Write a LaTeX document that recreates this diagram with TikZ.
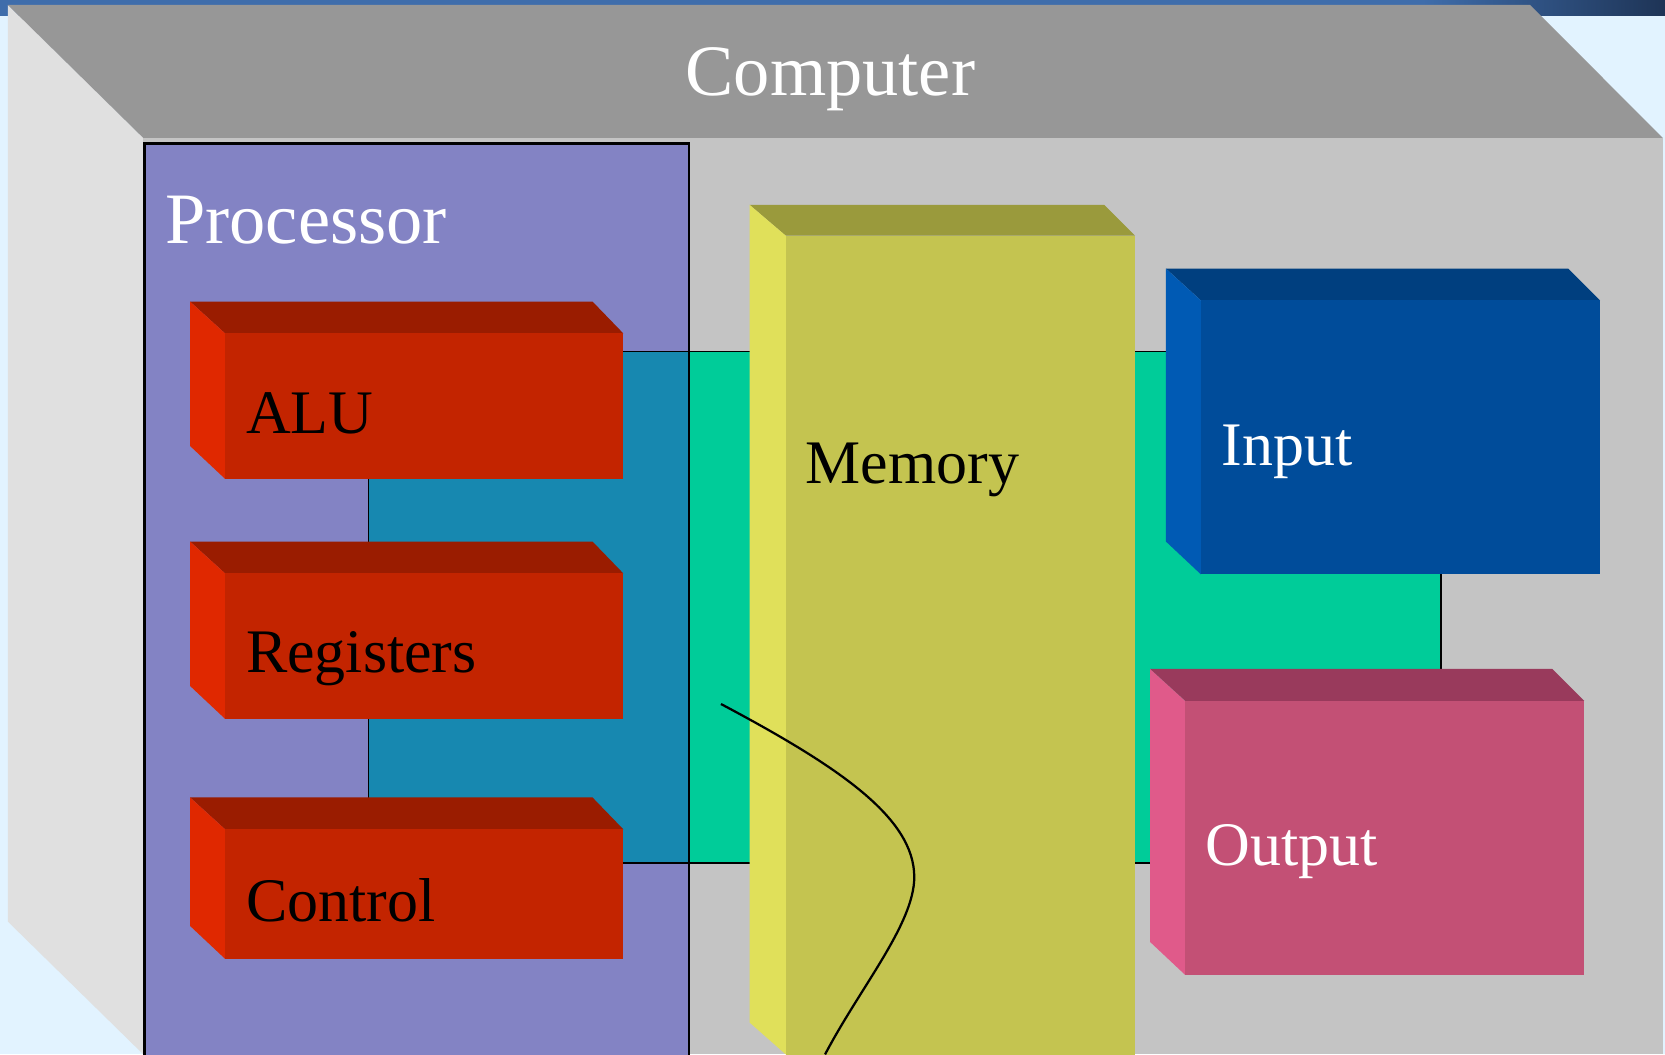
\documentclass[tikz,border=0pt]{standalone}
\usepackage{fontspec}
\setmainfont{Liberation Serif}
\definecolor{bgblue}{HTML}{E2F3FF}
\definecolor{barblue}{HTML}{3F6DAB}
\definecolor{bardark}{HTML}{1E3456}
\definecolor{topgray}{HTML}{979797}
\definecolor{leftgray}{HTML}{E0E0E0}
\definecolor{frontgray}{HTML}{C4C4C4}
\definecolor{procfill}{HTML}{8383C4}
\definecolor{busteal}{HTML}{1788B0}
\definecolor{busgreen}{HTML}{00CC99}
\definecolor{redtop}{HTML}{9A1C00}
\definecolor{redleft}{HTML}{E02800}
\definecolor{redfront}{HTML}{C32400}
\definecolor{memtop}{HTML}{9A9A3C}
\definecolor{memleft}{HTML}{E0E05A}
\definecolor{memfront}{HTML}{C4C450}
\definecolor{intop}{HTML}{003F7F}
\definecolor{inleft}{HTML}{005AB4}
\definecolor{infront}{HTML}{004C9A}
\definecolor{outtop}{HTML}{993A5C}
\definecolor{outleft}{HTML}{E05A8A}
\definecolor{outfront}{HTML}{C35075}
\tikzset{
  bigtext/.style={text=white, font=\fontsize{19.4}{22}\selectfont, inner sep=0pt},
  lbltext/.style={font=\fontsize{16.6}{19}\selectfont, inner sep=0pt, anchor=base west},
  busline/.style={draw=black, line width=0.45pt},
  procline/.style={draw=black, line width=0.7pt},
  wire/.style={draw=black, line width=0.6pt}
}
\begin{document}
\begin{tikzpicture}[x=0.1mm, y=-0.1mm]
\useasboundingbox (0,0) rectangle (1568,993);
\clip (0,0) rectangle (1568,993);
% background
\fill[bgblue] (0,0) rectangle (1568,993);
\fill[barblue] (0,0) rectangle (1568,15);
\shade[left color=barblue, right color=bardark] (1340,0) rectangle (1568,15);
% computer cabinet
\fill[leftgray] (7.5,4.7) -- (135,130) -- (135,993) -- (7.5,868) -- cycle;
\fill[topgray] (7.5,4.7) -- (1441,4.7) -- (1566,130) -- (135,130) -- cycle;
\fill[frontgray] (135,130) rectangle (1566,993);
% processor fill
\fill[procfill] (136,135) rectangle (649,1000);
% bus
\fill[busgreen, busline] (649,331) rectangle (1357,813);
\fill[busteal, busline] (347,331) rectangle (649,813);
% processor border
\draw[procline] (136,1000) -- (136,135) -- (649,135) -- (649,1000);
% red boxes
\foreach \yt/\yb in {284/451, 510/677, 751/903}{
  \fill[redtop] (179,\yt) -- (558,\yt) -- (587,\yt+30) -- (212,\yt+30) -- cycle;
  \fill[redleft] (179,\yt) -- (212,\yt+30) -- (212,\yb) -- (179,\yb-31) -- cycle;
  \fill[redfront] (212,\yt+30) rectangle (587,\yb);
}
% memory
\fill[memtop] (706,193) -- (1040,193) -- (1069,222) -- (740,222) -- cycle;
\fill[memleft] (706,193) -- (740,222) -- (740,993) -- (706,963) -- cycle;
\fill[memfront] (740,222) rectangle (1069,1000);
% input
\fill[intop] (1098,253) -- (1477,253) -- (1507,283) -- (1131,283) -- cycle;
\fill[inleft] (1098,253) -- (1131,283) -- (1131,541) -- (1098,510) -- cycle;
\fill[infront] (1131,283) rectangle (1507,541);
% output
\fill[outtop] (1083,630) -- (1462,630) -- (1492,660) -- (1116,660) -- cycle;
\fill[outleft] (1083,630) -- (1116,660) -- (1116,918) -- (1083,887) -- cycle;
\fill[outfront] (1116,660) rectangle (1492,918);
% texts
\node[bigtext, anchor=base] (computer) at (782,90) {Computer};
\node[bigtext, anchor=base west] (processor) at (155,229) {Processor};
\node[lbltext] (alu) at (231,408) {ALU};
\node[lbltext] (registers) at (231,633) {Registers};
\node[lbltext] (control) at (231,868) {Control};
\node[lbltext] (memory) at (758,455) {Memory};
\node[lbltext, text=white] (input) at (1150,438) {Input};
\node[lbltext, text=white] (output) at (1135,815) {Output};
% curve
\coordinate (cstart) at (679,663);
\coordinate (cmid) at (861,826);
\coordinate (cend) at (777,993);
\draw[wire] (cstart) .. controls (790,722) and (861,770) .. (cmid)
  .. controls (861,870) and (810,930) .. (cend);
\end{tikzpicture}
\end{document}
